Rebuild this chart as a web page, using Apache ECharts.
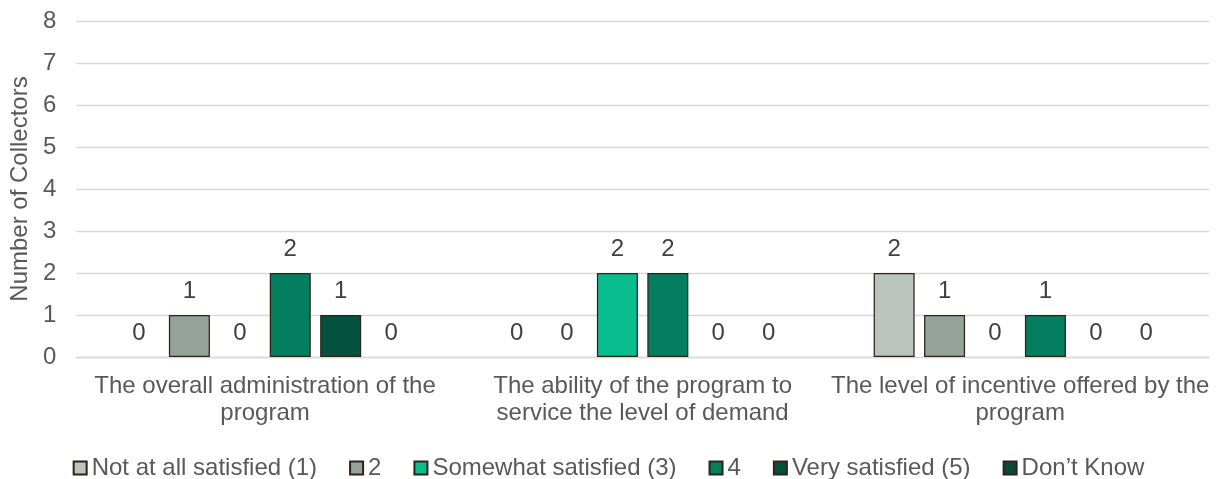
<!DOCTYPE html>
<html>
<head>
<meta charset="utf-8">
<title>Satisfaction with the program</title>
<script src="https://cdn.jsdelivr.net/npm/echarts@6/dist/echarts.min.js"></script>
<style>
  html, body { margin: 0; padding: 0; background: #ffffff; }
  #chart { width: 1217px; height: 479px; }
</style>
</head>
<body>
<div id="chart"></div>
<script>
// Survey aspects shown along the x axis
const categories = [
  'The overall administration of the\nprogram',
  'The ability of the program to\nservice the level of demand',
  'The level of incentive offered by the\nprogram'
];

// Rating names, in legend order
const ratingNames = [
  'Not at all satisfied (1)',
  '2',
  'Somewhat satisfied (3)',
  '4',
  'Very satisfied (5)',
  'Don\u2019t Know'
];

// Number of collectors giving each rating, per aspect
const notAtAllSatisfied = [0, 0, 2];
const rating2 = [1, 0, 1];
const somewhatSatisfied = [0, 2, 0];
const rating4 = [2, 2, 1];
const verySatisfied = [1, 0, 0];
const dontKnow = [0, 0, 0];

// Value axis ticks
const yTicks = [0, 1, 2, 3, 4, 5, 6, 7, 8];

const seriesValues = [notAtAllSatisfied, rating2, somewhatSatisfied, rating4, verySatisfied, dontKnow];
const seriesColors = ['#BAC3BE', '#95A39A', '#0ABD8E', '#037F5F', '#03523F', '#0A4A3A'];

const FONT = '"Liberation Sans", Arial, sans-serif';
const TEXT_COLOR = '#595959';
const FONT_SIZE = 24;

const chart = echarts.init(document.getElementById('chart'), null, { renderer: 'canvas' });

chart.setOption({
  animation: false,
  textStyle: { fontFamily: FONT, color: TEXT_COLOR },
  grid: { left: 75, right: 8, top: 21, bottom: 122, containLabel: false },
  legend: {
    left: 'center',
    top: 451,
    itemWidth: 13,
    itemHeight: 13,
    itemGap: 32,
    icon: 'rect',
    textStyle: { fontFamily: FONT, fontSize: FONT_SIZE, color: TEXT_COLOR },
    data: ratingNames
  },
  xAxis: {
    type: 'category',
    data: categories,
    axisLine: { show: true, lineStyle: { color: '#D9D9D9', width: 1.3 } },
    axisTick: { show: false },
    axisLabel: {
      interval: 0,
      margin: 16,
      fontFamily: FONT,
      fontSize: FONT_SIZE,
      lineHeight: 27,
      color: TEXT_COLOR,
      align: 'center'
    }
  },
  yAxis: {
    type: 'value',
    min: yTicks[0],
    max: yTicks[yTicks.length - 1],
    interval: 1,
    name: 'Number of Collectors',
    nameLocation: 'middle',
    nameGap: 44,
    nameTextStyle: { fontFamily: FONT, fontSize: FONT_SIZE, color: TEXT_COLOR },
    axisLine: { show: false },
    axisTick: { show: false },
    splitLine: { lineStyle: { color: '#D9D9D9', width: 1.3 } },
    axisLabel: { margin: 20, fontFamily: FONT, fontSize: FONT_SIZE, color: TEXT_COLOR }
  },
  series: ratingNames.map((name, i) => ({
    name: name,
    type: 'bar',
    // zero-height bars get no outline so only their value label shows
    data: seriesValues[i].map(v => v === 0 ? { value: v, itemStyle: { borderWidth: 0 } } : v),
    barWidth: 41,
    barGap: '23%',
    itemStyle: { color: seriesColors[i], borderColor: '#2E2416', borderWidth: 1.25 },
    label: {
      show: true,
      position: 'top',
      distance: 12,
      fontFamily: FONT,
      fontSize: FONT_SIZE,
      color: '#404040'
    }
  }))
});
</script>
</body>
</html>
